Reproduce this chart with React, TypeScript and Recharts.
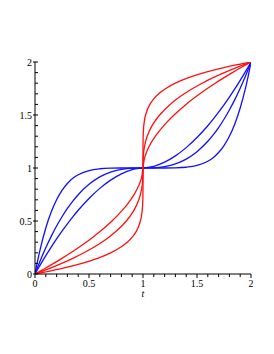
import { LineChart, Line, XAxis, YAxis } from 'recharts';

// parameter grid (t for the blue curves, y for the red ones)
const tGrid = [0, 0.025, 0.05, 0.1, 0.15, 0.2, 0.25, 0.3, 0.35, 0.4, 0.5, 0.6, 0.7, 0.8, 0.9, 1,
  1.1, 1.2, 1.3, 1.4, 1.5, 1.6, 1.65, 1.7, 1.75, 1.8, 1.85, 1.9, 1.95, 1.975, 2];

// blue curves, flat at t = 1
const blueA = [0, 0.0446, 0.0882, 0.1727, 0.2536, 0.3308, 0.4042, 0.4737, 0.5395, 0.6013, 0.7128, 0.8078, 0.8855, 0.9448, 0.9842, 1,
  1.0158, 1.0552, 1.1145, 1.1922, 1.2872, 1.3987, 1.4605, 1.5263, 1.5958, 1.6692, 1.7464, 1.8273, 1.9118, 1.9554, 2];
const blueB = [0, 0.0661, 0.1293, 0.2476, 0.3552, 0.4526, 0.5401, 0.6183, 0.6875, 0.7482, 0.8461, 0.9158, 0.9613, 0.987, 0.998, 1,
  1.002, 1.013, 1.0387, 1.0842, 1.1539, 1.2518, 1.3125, 1.3817, 1.4599, 1.5474, 1.6448, 1.7524, 1.8707, 1.9339, 2];
const blueC = [0, 0.1278, 0.2419, 0.4339, 0.5842, 0.7003, 0.7885, 0.8543, 0.9023, 0.9366, 0.9763, 0.9929, 0.9985, 0.9998, 1.0, 1,
  1.0, 1.0002, 1.0015, 1.0071, 1.0237, 1.0634, 1.0977, 1.1457, 1.2115, 1.2997, 1.4158, 1.5661, 1.7581, 1.8722, 2];

// red curves (t positions at each y level of tGrid), vertical at t = 1
const redA = [0, 0.0446, 0.0882, 0.1727, 0.2536, 0.3308, 0.4042, 0.4737, 0.5395, 0.6013, 0.7128, 0.8078, 0.8855, 0.9448, 0.9842, 1,
  1.0158, 1.0552, 1.1145, 1.1922, 1.2872, 1.3987, 1.4605, 1.5263, 1.5958, 1.6692, 1.7464, 1.8273, 1.9118, 1.9554, 2];
const redB = [0, 0.0661, 0.1293, 0.2476, 0.3552, 0.4526, 0.5401, 0.6183, 0.6875, 0.7482, 0.8461, 0.9158, 0.9613, 0.987, 0.998, 1,
  1.002, 1.013, 1.0387, 1.0842, 1.1539, 1.2518, 1.3125, 1.3817, 1.4599, 1.5474, 1.6448, 1.7524, 1.8707, 1.9339, 2];
const redC = [0, 0.1278, 0.2419, 0.4339, 0.5842, 0.7003, 0.7885, 0.8543, 0.9023, 0.9366, 0.9763, 0.9929, 0.9985, 0.9998, 1.0, 1,
  1.0, 1.0002, 1.0015, 1.0071, 1.0237, 1.0634, 1.0977, 1.1457, 1.2115, 1.2997, 1.4158, 1.5661, 1.7581, 1.8722, 2];

const axisTicks = [0, 0.1, 0.2, 0.3, 0.4, 0.5, 0.6, 0.7, 0.8, 0.9, 1, 1.1, 1.2, 1.3, 1.4, 1.5, 1.6, 1.7, 1.8, 1.9, 2];
const labelTicks = [0, 0.5, 1, 1.5, 2];

const FONT = '"Liberation Serif", "DejaVu Serif", serif';

const pairs = (xs: number[], ys: number[]) => xs.map((x, i) => ({ t: x, y: ys[i] }));

const isMajor = (v: number) => labelTicks.some(m => Math.abs(m - v) < 1e-6);

const XTick = ({ x, y, payload }: any) => {
  const major = isMajor(payload.value);
  return (
    <g>
      <line x1={x} x2={x} y1={y} y2={y + (major ? 4 : 3)} stroke="#000" strokeWidth={1} />
      {major && (
        <text x={x} y={y + 9.5} textAnchor="middle" dominantBaseline="central" fontSize={10} fontFamily={FONT} fill="#000">
          {payload.value}
        </text>
      )}
    </g>
  );
};

const YTick = ({ x, y, payload }: any) => {
  const major = isMajor(payload.value);
  return (
    <g>
      <line x1={major ? x - 2 : x} x2={x + 3} y1={y} y2={y} stroke="#000" strokeWidth={1} />
      {major && (
        <text x={x - 3} y={y} textAnchor="end" dominantBaseline="central" fontSize={10} fontFamily={FONT} fill="#000">
          {payload.value}
        </text>
      )}
    </g>
  );
};

export default function App() {
  const blue = [blueA, blueB, blueC];
  const red = [redA, redB, redC];
  return (
    <div style={{ position: 'absolute', left: 0, top: 0, width: 274, height: 354, background: '#fff' }}>
      <LineChart width={274} height={354} margin={{ top: 62, right: 23, left: 0, bottom: 0 }}>
        <XAxis
          type="number"
          dataKey="t"
          domain={[0, 2]}
          ticks={axisTicks}
          interval={0}
          height={80}
          tickSize={0}
          tickMargin={0}
          tickLine={false}
          tick={<XTick />}
          axisLine={{ stroke: '#000', strokeWidth: 1 }}
          allowDataOverflow
          label={{ value: 't', position: 'insideTop', offset: 16, style: { fontFamily: FONT, fontStyle: 'italic', fontSize: 10, fill: '#000' } }}
        />
        <YAxis
          type="number"
          dataKey="y"
          domain={[0, 2]}
          ticks={axisTicks}
          interval={0}
          width={35}
          tickSize={0}
          tickMargin={0}
          tickLine={false}
          tick={<YTick />}
          axisLine={{ stroke: '#000', strokeWidth: 1 }}
          allowDataOverflow
        />
        {blue.map((ys, i) => (
          <Line key={'b' + i} data={pairs(tGrid, ys)} dataKey="y" type="monotoneX" stroke="#1010ff"
            strokeWidth={1.3} dot={false} isAnimationActive={false} />
        ))}
        {red.map((xs, i) => (
          <Line key={'r' + i} data={pairs(xs, tGrid)} dataKey="y" type="monotoneY" stroke="#ff1010"
            strokeWidth={1.3} dot={false} isAnimationActive={false} />
        ))}
      </LineChart>
    </div>
  );
}
